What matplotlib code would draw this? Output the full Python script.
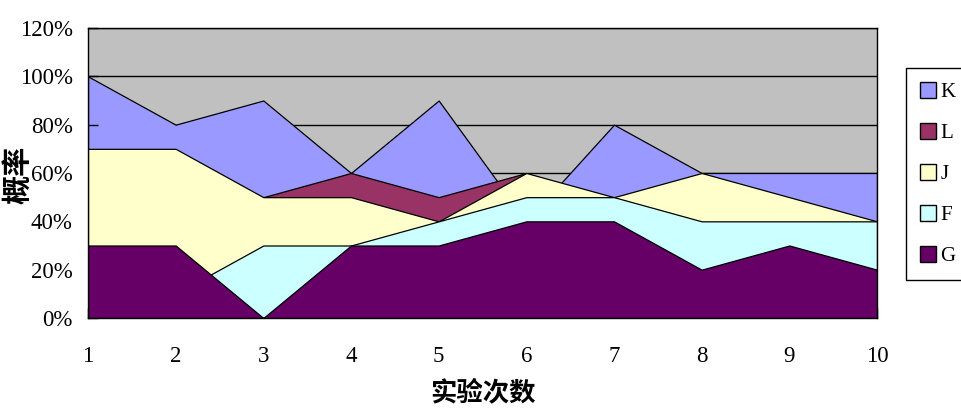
import numpy as np
import matplotlib
matplotlib.use('Agg')
import matplotlib.pyplot as plt
from matplotlib.patches import Patch
from matplotlib.ticker import FuncFormatter

plt.rcParams['font.family'] = ['Liberation Serif', 'Noto Sans CJK SC', 'DejaVu Sans']

trials = [1, 2, 3, 4, 5, 6, 7, 8, 9, 10]
# probability (%) per series; drawn back to front
K = [100, 80, 90, 60, 90, 40, 80, 60, 60, 60]
L = [40, 40, 50, 60, 50, 60, 40, 40, 30, 30]
J = [70, 70, 50, 50, 40, 60, 50, 60, 50, 40]
F = [10, 10, 30, 30, 40, 50, 50, 40, 40, 40]
G = [30, 30, 0, 30, 30, 40, 40, 20, 30, 20]
names = ['K', 'L', 'J', 'F', 'G']
colors = ['#9999FF', '#993366', '#FFFFCC', '#CCFFFF', '#660066']

fig = plt.figure(figsize=(9.62, 4.12), dpi=100)
ax = fig.add_axes([88/962, 1-318/412, (877-88)/962, (318-28)/412])
ax.set_facecolor('#C0C0C0')

for y in range(20, 121, 20):
    ax.axhline(y, color='black', lw=1.0, zorder=0.5)

for i, s in enumerate([K, L, J, F, G]):
    ax.fill_between(trials, 0, s, facecolor=colors[i], edgecolor='black',
                    lw=0.9, zorder=1 + i)

ax.set_xlim(1, 10)
ax.set_ylim(0, 120)
ax.set_xticks(trials)
ax.set_yticks(range(0, 121, 20))
ax.yaxis.set_major_formatter(FuncFormatter(lambda v, p: '%d%%' % v))
ax.tick_params(axis='x', direction='in', length=7, width=1, pad=20, labelsize=16.5)
ax.tick_params(axis='y', direction='in', length=7, width=1, pad=11, labelsize=16.5)
for sp in ax.spines.values():
    sp.set_color('black')
    sp.set_linewidth(1)
    sp.set_zorder(10)
for t in ax.get_xticklines() + ax.get_yticklines():
    t.set_zorder(11)

ax.set_xlabel('实验次数', family=['Noto Sans CJK SC'], fontsize=19,
              fontweight='bold', va='center')
ax.set_ylabel('概率', family=['Noto Sans CJK SC'], fontsize=21,
              fontweight='bold', va='center')
ax.xaxis.set_label_coords(0.5, -0.258)
ax.yaxis.set_label_coords(-0.089, 0.493)

handles = [Patch(facecolor=c, edgecolor='black', lw=1) for c in colors]
leg = fig.legend(handles, names, loc='upper left',
                 bbox_to_anchor=(906/962, 1-68/412), borderaxespad=0,
                 fontsize=15, handlelength=0.8, handleheight=0.8,
                 handletextpad=0.2, labelspacing=1.0, borderpad=0.66,
                 fancybox=False, framealpha=1)
leg.get_frame().set_edgecolor('black')
leg.get_frame().set_linewidth(1)

fig.savefig('out.png', dpi=100)
